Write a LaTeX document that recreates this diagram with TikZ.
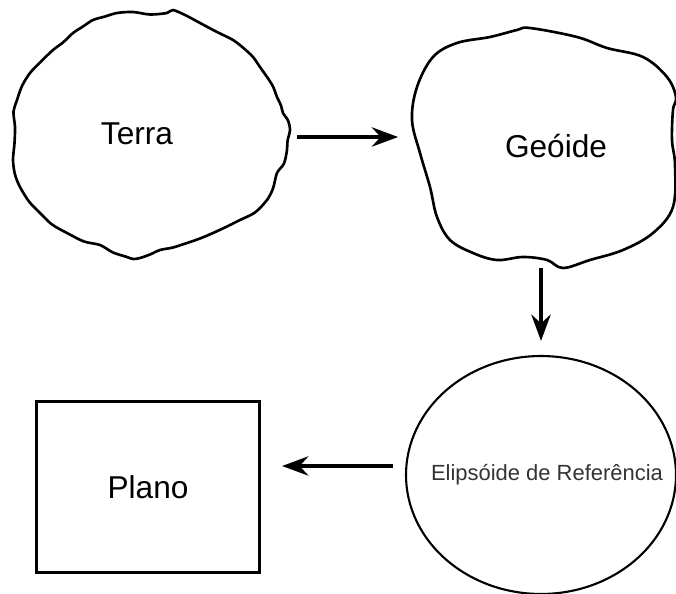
\documentclass[tikz,border=0pt]{standalone}
\usepackage{fontspec}
\setmainfont{Liberation Sans}
\usetikzlibrary{arrows.meta,shapes.geometric,calc}

\tikzset{
  outline/.style={line width=1.5pt, line join=round},
  hidden/.style={ellipse, inner sep=0pt},
  bigtext/.style={font=\fontsize{18}{20}\selectfont},
  smalltext/.style={font=\fontsize{12.5}{14}\selectfont, text=black!80},
  arrow/.style={line width=2pt, -{Stealth[length=15pt,width=11pt,inset=5pt]}},
}

\begin{document}
\begin{tikzpicture}[x=0.02cm,y=-0.02cm]
\useasboundingbox (0,0) rectangle (676,594);

% terra
\node[hidden, minimum width=5.6cm, minimum height=5.08cm] (terra) at (150,135) {};
\draw[outline] plot[smooth cycle, tension=0.5] coordinates {
  (133,12) (150,14.5) (167,13) (173,10) (186,15.5) (200,23) (216,31.5) (233,40)
  (244,48.5) (253,57) (261,68.5) (267,77) (273,86.5) (277,97) (281,105.5)
  (283,113) (288,120.5) (290,130) (287.5,141) (287,150) (284,163.5) (277,173)
  (273,188.5) (267,200) (255,212.5) (240,220) (227,226.5) (213,233) (200,238.5)
  (187,243) (173,247.5) (160,250) (150,254.5) (140,258) (133,259) (127,257)
  (113,252.5) (100,245) (84,241.5) (67,233) (52,224.5) (40,213) (29,201.5)
  (20,187) (15,174.5) (13,160) (14.5,143) (15,127) (13.5,112) (17,100)
  (22,86) (30,73) (41,61.5) (53,50) (63,42.5) (73,33) (83,26.5) (93,20)
  (105,16.5) (117,13)};
\node[bigtext] (terra-lbl) at (137,134) {Terra};

% geoide
\node[hidden, minimum width=5.28cm, minimum height=4.8cm] (geoide) at (541,148) {};
\draw[outline] plot[smooth cycle, tension=0.6] coordinates {
  (530,28) (577,37) (607,48) (643,57) (667,77) (676,97) (673,110) (672,140)
  (675,165) (673,207) (653,233) (623,250) (590,260) (563,268) (547,260)
  (523,257) (497,260) (473,253) (450,240) (437,217) (430,187) (420,153)
  (412,120) (417,87) (433,57) (457,43) (490,37) (517,30)};
\node[bigtext] (geoide-lbl) at (556,146) {Geóide};

% elipsoide
\node[ellipse, draw, line width=1.2pt, minimum width=5.4cm, minimum height=4.76cm] (elipsoide) at (541,475) {};
\node[smalltext] (elipsoide-lbl) at (547,475) {Elipsóide de Referência};

% plano
\node[draw, line width=1.7pt, minimum width=4.46cm, minimum height=3.44cm, bigtext] (plano) at (148,487) {Plano};

\draw[arrow, shorten <=4pt, shorten >=6pt] ($(terra.east)+(0,2)$) -- ($(terra.east -| geoide.west)+(0,2)$);
\draw[arrow, shorten >=8pt] (geoide.south) -- (elipsoide.north);
\draw[arrow, shorten <=7pt, shorten >=12pt] ($(elipsoide.west)+(0,-9)$) -- ($(elipsoide.west -| plano.east)+(0,-9)$);
\end{tikzpicture}
\end{document}
